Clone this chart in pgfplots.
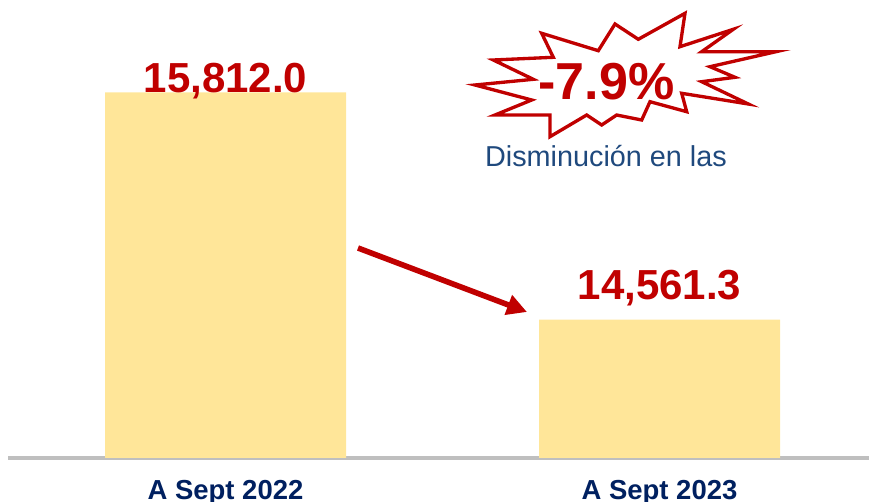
\documentclass[border=0pt]{standalone}
\usepackage{fontspec}
\setmainfont{Liberation Sans}
\usepackage{pgfplots}
\pgfplotsset{compat=1.18}
\usetikzlibrary{arrows.meta}
\definecolor{barfill}{HTML}{FFE699}
\definecolor{redtxt}{HTML}{C00000}
\definecolor{navy}{HTML}{002060}
\definecolor{bluetxt}{HTML}{1F497D}
\definecolor{axisgray}{HTML}{BFBFBF}
\begin{document}
\begin{tikzpicture}
\useasboundingbox (0,0) rectangle (651.75pt,-376.5pt);
\begin{axis}[
  at={(6pt,-343.5pt)}, anchor=south west,
  scale only axis, width=645.75pt, height=343.5pt,
  xmin=-0.50115, xmax=1.48272,
  ymin=13800, ymax=16320,
  axis x line=bottom, axis y line=none,
  x axis line style={-, draw=axisgray, line width=2.4pt},
  xtick={0,1}, xticklabels={A Sept 2022, A Sept 2023},
  xtick style={draw=none},
  xticklabel style={anchor=base, yshift=-26.8pt, font=\fontsize{20.6pt}{24pt}\selectfont\bfseries, text=navy},
  ytick=\empty,
  ybar, bar width=180.75pt,
  clip=true,
]
\addplot[fill=barfill, draw=none] coordinates {(0,15812.0) (1,14561.3)};
\node[anchor=base, text=redtxt, font=\fontsize{31.5pt}{36pt}\selectfont\bfseries, inner sep=0pt] at (axis cs:0,15812.0) [yshift=0.2pt] {15,812.0};
\node[anchor=base, text=redtxt, font=\fontsize{31.5pt}{36pt}\selectfont\bfseries, inner sep=0pt] at (axis cs:1,14561.3) [yshift=15pt] {14,561.3};
\end{axis}
\begin{scope}[x=0.75pt, y=-0.75pt]
\draw[redtxt, line width=4.2pt, -{Triangle[length=15pt, width=15pt]}] (358,248) -- (527,312);
\draw[redtxt, line width=2.5pt, fill=white, line join=miter]
  (475,85) -- (533.3,79.3) -- (493.3,60) -- (553.3,57.3) -- (541.7,33.3) -- (598.3,50.7)
  -- (615,24) -- (638.3,39.3) -- (685,13.3) -- (680,46.7) -- (733.3,29.3) -- (701.7,51.7)
  -- (776,51.7) -- (710,66.7) -- (735,77.3) -- (701.7,81.7) -- (748.3,104) -- (681.7,93.3)
  -- (686.7,111.7) -- (650,101.7) -- (641.7,120) -- (616.7,115) -- (601.7,125) -- (586.7,115)
  -- (550,136.7) -- (550,115) -- (495,115) -- (531.7,100) -- cycle;
\node[anchor=base, text=redtxt, font=\fontsize{39pt}{44pt}\selectfont\bfseries, inner sep=0pt] at (606.5,100) {-7.9\%};
\node[anchor=base, text=bluetxt, font=\fontsize{21.6pt}{25pt}\selectfont, inner sep=0pt] at (606,166.7) {Disminución en las};
\end{scope}
\end{tikzpicture}
\end{document}
